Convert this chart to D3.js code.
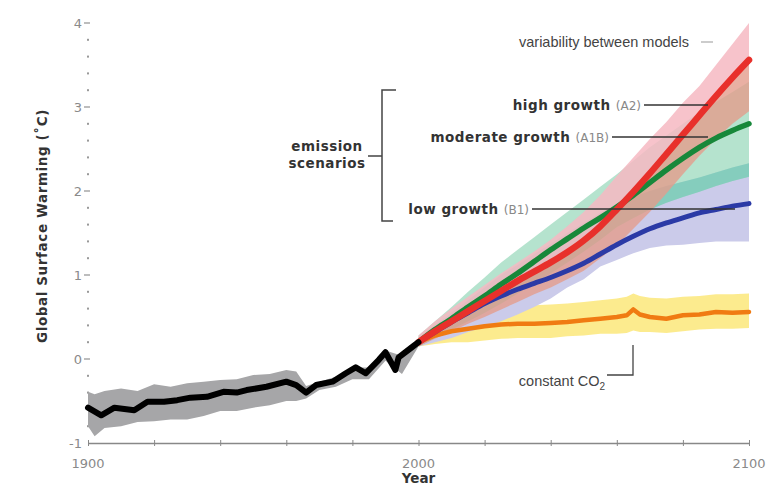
<!DOCTYPE html>
<html>
<head>
<meta charset="utf-8">
<script src="https://cdn.jsdelivr.net/npm/d3@7/dist/d3.min.js"></script>
<style>
  body { margin: 0; background: #fff; }
  svg text { font-family: "DejaVu Sans", Verdana, sans-serif; }
  .axis-title { font-weight: bold; font-size: 13.5px; fill: #333; }
  .tick-label { font-size: 13px; fill: #8a8a8a; }
  .note-bold { font-weight: bold; font-size: 13.5px; fill: #333; letter-spacing: 0.5px; }
  .note-code { font-weight: normal; font-size: 12px; fill: #888; }
  .note-plain { font-family: "Liberation Sans", Arial, sans-serif !important; font-size: 14.5px; fill: #444; }
</style>
</head>
<body>
<div id="chart"></div>
<script>

// observed record 1900-2000
var histYears = [1900,1904,1908,1914,1918,1923,1927,1931,1936,1941,1945,1948,1954,1960,1963,1966,1969,1974,1978,1981,1984,1988,1990,1993,1994,1998,2000];
var histMean  = [-0.58,-0.67,-0.58,-0.61,-0.51,-0.51,-0.49,-0.46,-0.45,-0.39,-0.40,-0.37,-0.33,-0.27,-0.31,-0.40,-0.31,-0.27,-0.17,-0.10,-0.17,-0.01,0.08,-0.13,0.02,0.14,0.20];

var histBandYears = [1900,1902,1905,1910,1915,1920,1925,1930,1935,1940,1945,1950,1955,1960,1963,1966,1970,1975,1980,1985,1990,1995,2000];
var histHi = [-0.39,-0.42,-0.38,-0.35,-0.38,-0.30,-0.33,-0.29,-0.27,-0.25,-0.24,-0.19,-0.18,-0.13,-0.15,-0.32,-0.27,-0.21,-0.10,-0.10,0.10,0.04,0.24];
var histLo = [-0.80,-0.92,-0.82,-0.80,-0.75,-0.74,-0.72,-0.72,-0.68,-0.62,-0.62,-0.58,-0.55,-0.50,-0.50,-0.47,-0.37,-0.33,-0.24,-0.24,-0.02,-0.18,0.15];

// projections 2000-2100
var projYears = [2000,2005,2010,2015,2020,2025,2030,2035,2040,2045,2050,2055,2060,2065,2070,2075,2080,2085,2090,2095,2100];

var a2Mean = [0.20,0.33,0.45,0.57,0.69,0.81,0.93,1.04,1.15,1.27,1.41,1.58,1.78,1.99,2.21,2.44,2.67,2.90,3.13,3.35,3.56];
var a2Hi   = [0.28,0.45,0.60,0.74,0.88,1.02,1.15,1.28,1.42,1.58,1.75,1.95,2.18,2.40,2.62,2.82,3.05,3.25,3.50,3.75,4.00];
var a2Lo   = [0.15,0.24,0.33,0.42,0.50,0.59,0.68,0.77,0.85,0.95,1.05,1.20,1.35,1.55,1.75,1.97,2.20,2.42,2.62,2.80,2.95];

var a1bMean = [0.20,0.35,0.48,0.62,0.75,0.89,1.02,1.16,1.30,1.43,1.56,1.68,1.81,1.95,2.10,2.25,2.39,2.52,2.63,2.72,2.80];
var a1bHi   = [0.28,0.45,0.62,0.80,0.97,1.15,1.30,1.45,1.60,1.75,1.90,2.05,2.20,2.36,2.52,2.66,2.80,2.94,3.06,3.18,3.30];
var a1bLo   = [0.15,0.25,0.35,0.45,0.55,0.66,0.78,0.90,1.02,1.15,1.28,1.42,1.57,1.68,1.78,1.86,1.93,1.99,2.06,2.12,2.17];

var b1Mean = [0.20,0.32,0.44,0.55,0.66,0.75,0.83,0.90,0.97,1.05,1.14,1.25,1.36,1.46,1.55,1.62,1.68,1.74,1.78,1.82,1.85];
var b1Hi   = [0.25,0.40,0.55,0.70,0.85,1.00,1.12,1.25,1.37,1.50,1.62,1.74,1.85,1.93,2.00,2.06,2.11,2.16,2.22,2.28,2.33];
var b1Lo   = [0.15,0.20,0.25,0.32,0.38,0.45,0.53,0.62,0.72,0.85,0.95,1.10,1.18,1.26,1.32,1.35,1.36,1.38,1.40,1.40,1.40];

var co2Years = [2000,2005,2010,2015,2020,2025,2030,2035,2040,2045,2050,2055,2060,2063,2065,2067,2070,2075,2080,2085,2090,2095,2100];
var co2Mean  = [0.20,0.28,0.33,0.36,0.39,0.41,0.42,0.42,0.43,0.44,0.46,0.48,0.50,0.52,0.59,0.53,0.50,0.48,0.52,0.53,0.56,0.55,0.56];
var co2Hi    = [0.26,0.42,0.50,0.55,0.60,0.62,0.62,0.64,0.65,0.66,0.68,0.70,0.72,0.74,0.78,0.75,0.73,0.72,0.74,0.75,0.77,0.77,0.78];
var co2Lo    = [0.15,0.18,0.20,0.20,0.22,0.24,0.25,0.25,0.25,0.27,0.28,0.30,0.30,0.31,0.34,0.32,0.32,0.31,0.33,0.35,0.36,0.36,0.37];

var yTicks = [-1, 0, 1, 2, 3, 4];
var xTicks = [1900, 2000, 2100];


ClimateChart = function(_parentElement){
  var vis = this;
  vis.parentElement = _parentElement;
  vis.initVis();
};

ClimateChart.prototype.initVis = function(){
  var vis = this;

  vis.width = 773;
  vis.height = 491;

  vis.svg = d3.select("#" + vis.parentElement).append("svg")
    .attr("width", vis.width)
    .attr("height", vis.height);

  vis.x = d3.scaleLinear().domain([1900, 2100]).range([88, 749]);
  vis.y = d3.scaleLinear().domain([-1, 4]).range([443, 23]);

  vis.drawAxes();
  vis.drawData();
  vis.drawNotes();
};

ClimateChart.prototype.drawAxes = function(){
  var vis = this;

  // x axis: plain line, small crossing ticks every 20 years
  var xAxis = d3.axisBottom(vis.x)
    .tickValues(d3.range(1900, 2101, 20))
    .tickSize(3)
    .tickSizeOuter(0)
    .tickFormat("");

  var gx = vis.svg.append("g")
    .attr("class", "x-axis")
    .attr("transform", "translate(0," + vis.y(-1) + ")")
    .call(xAxis);
  gx.select(".domain").attr("stroke", "#888").attr("stroke-width", 1.3);
  gx.selectAll(".tick line").attr("stroke", "#888").attr("y1", -3);

  gx.selectAll(".year-label")
    .data(xTicks)
    .enter().append("text")
    .attr("class", "tick-label")
    .attr("text-anchor", "middle")
    .attr("x", function(d){ return vis.x(d); })
    .attr("y", 25)
    .text(function(d){ return d; });

  // y axis: labels with a short dash, dotted minor ticks
  var minor = d3.range(-0.8, 4, 0.2).filter(function(d){
    return Math.abs(d - Math.round(d)) > 0.01;
  });

  vis.svg.selectAll(".minor-tick")
    .data(minor)
    .enter().append("rect")
    .attr("class", "minor-tick")
    .attr("x", 87)
    .attr("y", function(d){ return vis.y(d) - 1; })
    .attr("width", 2)
    .attr("height", 2)
    .attr("fill", "#999");

  vis.svg.selectAll(".major-tick")
    .data(yTicks.filter(function(d){ return d > -1; }))
    .enter().append("line")
    .attr("x1", 84).attr("x2", 90)
    .attr("y1", function(d){ return vis.y(d); })
    .attr("y2", function(d){ return vis.y(d); })
    .attr("stroke", "#999")
    .attr("stroke-width", 1.3);

  vis.svg.selectAll(".y-label")
    .data(yTicks)
    .enter().append("text")
    .attr("class", "tick-label")
    .attr("text-anchor", "end")
    .attr("x", 82)
    .attr("y", function(d){ return vis.y(d) + 5; })
    .text(function(d){ return d; });

  vis.svg.append("text")
    .attr("class", "axis-title")
    .attr("text-anchor", "middle")
    .attr("transform", "translate(47," + 226 + ")rotate(-90)")
    .style("letter-spacing", "0.6px")
    .text("Global Surface Warming (\u02DAC)");

  vis.svg.append("text")
    .attr("class", "axis-title")
    .attr("text-anchor", "middle")
    .attr("x", vis.x(2000))
    .attr("y", 483)
    .text("Year");
};

ClimateChart.prototype.band = function(years, lo, hi){
  var vis = this;
  var rows = years.map(function(yr, i){ return { yr: yr, lo: lo[i], hi: hi[i] }; });
  return d3.area()
    .x(function(d){ return vis.x(d.yr); })
    .y0(function(d){ return vis.y(d.lo); })
    .y1(function(d){ return vis.y(Math.max(d.lo, d.hi)); })(rows);
};

ClimateChart.prototype.line = function(years, vals, smooth){
  var vis = this;
  return d3.line()
    .curve(smooth ? d3.curveMonotoneX : d3.curveLinear)
    .x(function(d, i){ return vis.x(years[i]); })
    .y(function(d){ return vis.y(d); })(vals);
};

ClimateChart.prototype.drawData = function(){
  var vis = this;
  var g = vis.svg.append("g").attr("class", "data");

  // ranges between models
  g.append("path").attr("d", vis.band(histBandYears, histLo, histHi)).attr("fill", "#a6a6a8");
  g.append("path").attr("d", vis.band(co2Years, co2Lo, co2Hi)).attr("fill", "#fbe77a").attr("opacity", 0.85);
  g.append("path").attr("d", vis.band(projYears, b1Lo, b1Hi)).attr("fill", "#cbcbea");
  g.append("path").attr("d", vis.band(projYears, a1bLo, a1bHi)).attr("fill", "#a2dcc2").attr("opacity", 0.8);
  // where the A1B and B1 ranges overlap
  g.append("path").attr("d", vis.band(projYears, a1bLo, b1Hi)).attr("fill", "#7ecabb").attr("opacity", 0.85);
  g.append("path").attr("d", vis.band(projYears, a2Mean, a2Hi)).attr("fill", "#f6b8c2").attr("opacity", 0.85);
  g.append("path").attr("d", vis.band(projYears, a2Lo, a2Mean)).attr("fill", "#e49c8c").attr("opacity", 0.8);

  // leader for constant CO2, runs under the marks
  vis.svg.append("path")
    .attr("d", "M607,375H633V345")
    .attr("fill", "none").attr("stroke", "#444").attr("stroke-width", 1.3);

  // mean lines
  var lines = [
    { yr: co2Years, v: co2Mean, c: "#f07b12", w: 4.5, s: false },
    { yr: projYears, v: b1Mean, c: "#2b3aa6", w: 5, s: true },
    { yr: projYears, v: a1bMean, c: "#17883a", w: 5.5, s: true },
    { yr: projYears, v: a2Mean, c: "#e8302b", w: 6.5, s: true },
    { yr: histYears, v: histMean, c: "#000", w: 6, s: false }
  ];

  g.selectAll(".mean-line")
    .data(lines)
    .enter().append("path")
    .attr("class", "mean-line")
    .attr("d", function(d){ return vis.line(d.yr, d.v, d.s); })
    .attr("fill", "none")
    .attr("stroke", function(d){ return d.c; })
    .attr("stroke-width", function(d){ return d.w; })
    .attr("stroke-linejoin", "round")
    .attr("stroke-linecap", "round");
};

ClimateChart.prototype.drawNotes = function(){
  var vis = this;
  var notes = vis.svg.append("g").attr("class", "notes");

  // scenario labels with leader lines
  var scen = [
    { name: "high growth", code: "(A2)", xEnd: 641, y: 105, lx2: 708 },
    { name: "moderate growth", code: "(A1B)", xEnd: 609, y: 137, lx2: 708 },
    { name: "low growth", code: "(B1)", xEnd: 529, y: 209, lx2: 735 }
  ];

  scen.forEach(function(s){
    var t = notes.append("text")
      .attr("class", "note-bold")
      .attr("text-anchor", "end")
      .attr("x", s.xEnd)
      .attr("y", s.y + 5);
    t.append("tspan").text(s.name + " ");
    t.append("tspan").attr("class", "note-code").style("letter-spacing", "0px").text(s.code);

    notes.append("line")
      .attr("x1", s.xEnd + 3).attr("x2", s.lx2)
      .attr("y1", s.y).attr("y2", s.y)
      .attr("stroke", "#333").attr("stroke-width", 1.5);
  });

  // bracket
  notes.append("path")
    .attr("d", "M396,90H382V221H393M382,156H368")
    .attr("fill", "none").attr("stroke", "#444").attr("stroke-width", 1.5);

  notes.append("text")
    .attr("class", "note-bold")
    .attr("text-anchor", "middle")
    .attr("x", 327).attr("y", 151)
    .text("emission");
  notes.append("text")
    .attr("class", "note-bold")
    .attr("text-anchor", "middle")
    .attr("x", 327).attr("y", 168)
    .text("scenarios");

  notes.append("text")
    .attr("class", "note-plain")
    .attr("x", 519).attr("y", 47)
    .text("variability between models");
  notes.append("line")
    .attr("x1", 701).attr("x2", 713)
    .attr("y1", 42).attr("y2", 42)
    .attr("stroke", "#aaa").attr("stroke-width", 1.2);

  var co2 = notes.append("text")
    .attr("class", "note-plain")
    .attr("text-anchor", "end")
    .attr("x", 605).attr("y", 386);
  co2.append("tspan").text("constant CO");
  co2.append("tspan").attr("dy", 4).style("font-size", "10px").text("2");
};

var chart = new ClimateChart("chart");

</script>
</body>
</html>
